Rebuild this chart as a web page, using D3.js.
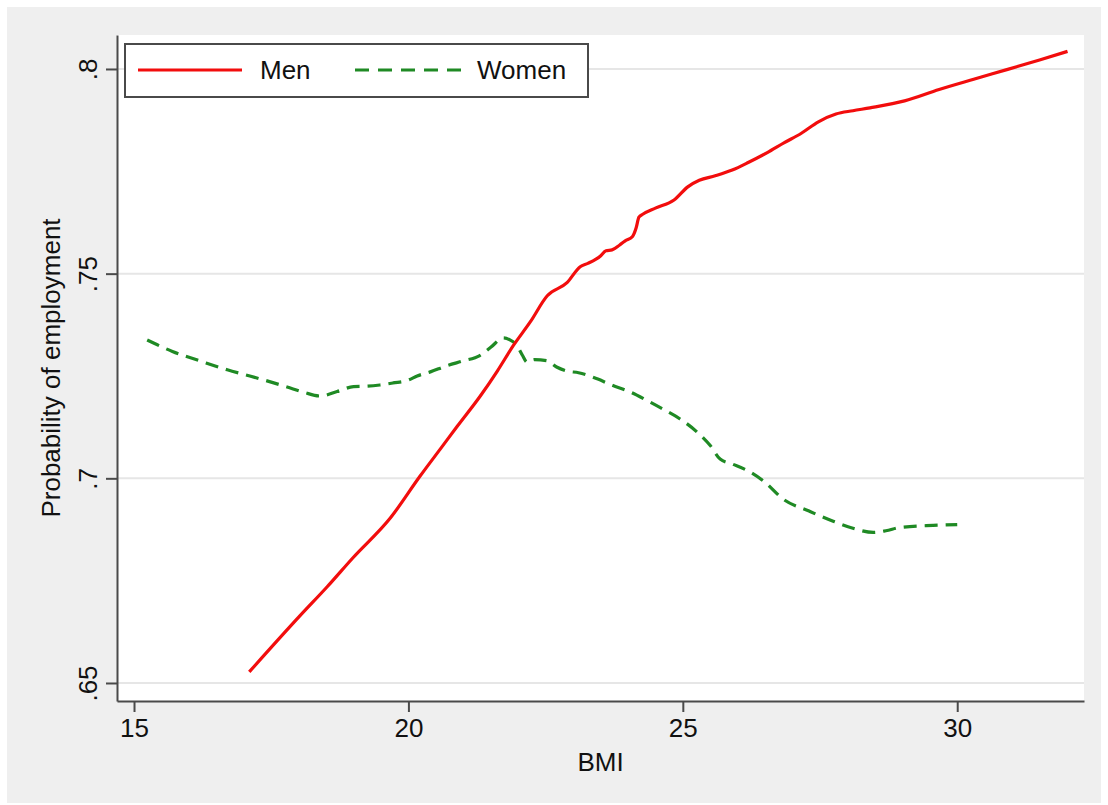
<!DOCTYPE html>
<html>
<head>
<meta charset="utf-8">
<script src="https://cdn.jsdelivr.net/npm/d3@7"></script>
<style>
  body { margin: 0; background: #ffffff; }
  text { font-family: "Liberation Sans", Arial, Helvetica, sans-serif; fill: #111; }
</style>
</head>
<body>
<svg id="chart" width="1108" height="805"></svg>
<script>
// data
const menBmi = [17.10, 18.03, 18.52, 18.99, 19.67, 20.21, 20.60, 20.89, 21.31, 21.62, 21.91, 22.22,
  22.53, 22.89, 23.13, 23.27, 23.50, 23.60, 23.71, 23.85, 23.95, 24.08, 24.15, 24.20, 24.27,
  24.50, 24.84, 25.09, 25.30, 25.59, 25.90, 26.20, 26.53, 26.85, 27.16, 27.47, 27.79, 28.10,
  28.41, 29.04, 29.67, 30.30, 30.92, 31.50, 32.01];
const menProb = [.6527, .6665, .6735, .6806, .6903, .7005, .7075, .7127, .7201, .7262, .7324, .7382,
  .7446, .7478, .7517, .7525, .7543, .7556, .7558, .7570, .7580, .7590, .7612, .7638, .7645,
  .7660, .7680, .7712, .7728, .7739, .7753, .7772, .7795, .7820, .7843, .7871, .7890, .7898,
  .7905, .7922, .7950, .7975, .7999, .8022, .8043];

const womenBmi = [15.24, 15.70, 16.20, 16.70, 17.11, 17.50, 17.79, 18.10, 18.39, 18.70, 19.00,
  19.25, 19.48, 19.72, 20.00, 20.16, 20.40, 20.70, 21.00, 21.30, 21.50, 21.73, 21.85, 21.98,
  22.08, 22.16, 22.30, 22.53, 22.70, 22.89, 23.10, 23.44, 23.70, 24.04, 24.35, 24.64, 24.95,
  25.26, 25.50, 25.68, 25.90, 26.23, 26.50, 26.83, 27.30, 27.74, 28.10, 28.47, 28.70, 28.96,
  29.56, 30.00];
const womenProb = [.7338, .7310, .7287, .7265, .7250, .7235, .7223, .7210, .7201, .7212, .7224,
  .7225, .7228, .7233, .7240, .7250, .7260, .7275, .7287, .7300, .7320, .7343, .7338, .7324,
  .7300, .7284, .7290, .7287, .7272, .7262, .7258, .7243, .7228, .7211, .7190, .7169, .7145,
  .7113, .7080, .7047, .7035, .7015, .6990, .6949, .6920, .6895, .6878, .6868, .6872, .6880,
  .6885, .6887];

const xTicks = [15, 20, 25, 30];
const yTicks = [.65, .7, .75, .8];
const yTickLabels = [".65", ".7", ".75", ".8"];
const seriesNames = ["Men", "Women"];

// layout
const margin = { top: 35, right: 24, bottom: 104, left: 117 };
const fullW = 1108, fullH = 805;
const width = fullW - margin.left - margin.right;
const height = fullH - margin.top - margin.bottom;

const svg = d3.select("#chart");

// gray outer panel
svg.append("rect")
  .attr("x", 7).attr("y", 7)
  .attr("width", 1094).attr("height", 796)
  .attr("fill", "#efefef");

const g = svg.append("g")
  .attr("transform", `translate(${margin.left},${margin.top})`);

// plot area
g.append("rect")
  .attr("width", width).attr("height", height)
  .attr("fill", "#ffffff");

const x = d3.scaleLinear().domain([14.69, 32.31]).range([0, width]);
const y = d3.scaleLinear().domain([.6456, .8083]).range([height, 0]);

// grid
g.selectAll("line.grid")
  .data(yTicks)
  .join("line")
  .attr("class", "grid")
  .attr("x1", 0).attr("x2", width)
  .attr("y1", d => y(d)).attr("y2", d => y(d))
  .attr("stroke", "#e6e6e6")
  .attr("stroke-width", 2);

// axes
const xAxis = g.append("g")
  .attr("transform", `translate(0,${height})`)
  .call(d3.axisBottom(x).tickValues(xTicks).tickSize(11).tickPadding(7).tickSizeOuter(0));

const yAxis = g.append("g")
  .call(d3.axisLeft(y).tickValues(yTicks).tickSize(11).tickSizeOuter(0).tickFormat(""));

[xAxis, yAxis].forEach(a => {
  a.select(".domain").attr("stroke", "#4a4a4a").attr("stroke-width", 2);
  a.selectAll(".tick line").attr("stroke", "#4a4a4a").attr("stroke-width", 2);
});

xAxis.selectAll(".tick text")
  .attr("font-size", 26)
  .attr("font-family", "Liberation Sans, Arial, sans-serif")
  .attr("fill", "#111");

// rotated y tick labels
yAxis.selectAll(".tick")
  .append("text")
  .attr("transform", "translate(-20,0) rotate(-90)")
  .attr("text-anchor", "middle")
  .attr("font-size", 26)
  .attr("font-family", "Liberation Sans, Arial, sans-serif")
  .attr("fill", "#111")
  .text((d, i) => yTickLabels[i]);

// axis titles
g.append("text")
  .attr("x", width / 2)
  .attr("y", height + 70)
  .attr("text-anchor", "middle")
  .attr("font-size", 26)
  .text("BMI");

g.append("text")
  .attr("transform", `translate(${60 - margin.left},${height / 2}) rotate(-90)`)
  .attr("text-anchor", "middle")
  .attr("font-size", 26)
  .text("Probability of employment");

// lines
const line = d3.line()
  .x(d => x(d[0]))
  .y(d => y(d[1]))
  .curve(d3.curveMonotoneX);

const menData = menBmi.map((b, i) => [b, menProb[i]]);
const womenData = womenBmi.map((b, i) => [b, womenProb[i]]);

g.append("path")
  .datum(womenData)
  .attr("d", line)
  .attr("fill", "none")
  .attr("stroke", "#1f8a24")
  .attr("stroke-width", 3.2)
  .attr("stroke-dasharray", "13,8");

g.append("path")
  .datum(menData)
  .attr("d", line)
  .attr("fill", "none")
  .attr("stroke", "#f20d0d")
  .attr("stroke-width", 3.2);

// legend
const legend = svg.append("g")
  .attr("transform", "translate(125,44)");

legend.append("rect")
  .attr("width", 463).attr("height", 53)
  .attr("fill", "#ffffff")
  .attr("stroke", "#4a4a4a")
  .attr("stroke-width", 2);

const legendItems = [
  { name: seriesNames[0], color: "#f20d0d", dash: null, x0: 13, x1: 117, tx: 135 },
  { name: seriesNames[1], color: "#1f8a24", dash: "14,9", x0: 230, x1: 336, tx: 352 }
];

legendItems.forEach(d => {
  legend.append("line")
    .attr("x1", d.x0).attr("x2", d.x1)
    .attr("y1", 26).attr("y2", 26)
    .attr("stroke", d.color)
    .attr("stroke-width", 3.2)
    .attr("stroke-dasharray", d.dash);
  legend.append("text")
    .attr("x", d.tx)
    .attr("y", 35)
    .attr("font-size", 26)
    .text(d.name);
});
</script>
</body>
</html>
